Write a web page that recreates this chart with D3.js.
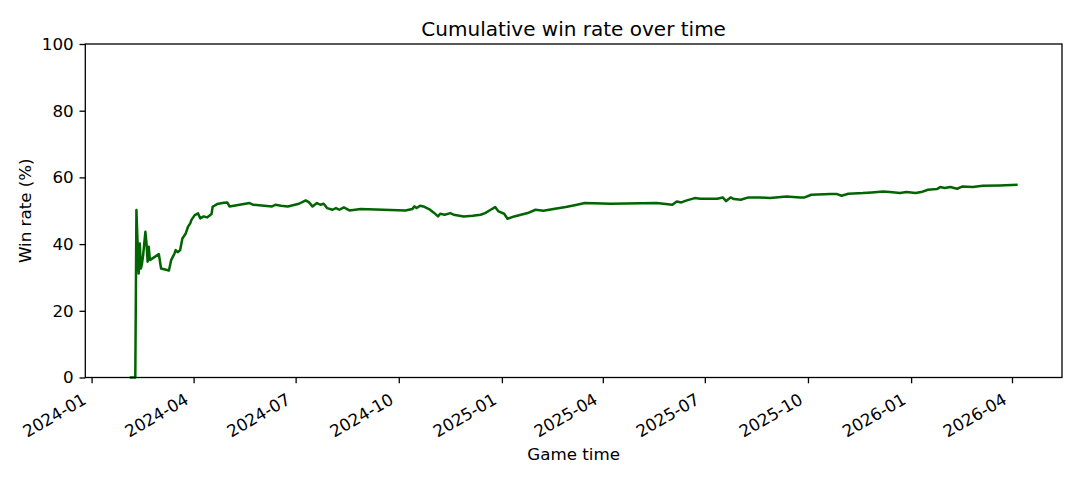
<!DOCTYPE html>
<html>
<head>
<meta charset="utf-8">
<script src="https://cdn.jsdelivr.net/npm/d3@7"></script>
<style>
  body { margin: 0; background: #fff; }
  text { font-family: "DejaVu Sans", sans-serif; fill: #000; }
</style>
</head>
<body>
<div id="chart"></div>
<script>
// data
const gameDates = [
  "2024-02-04", "2024-02-09", "2024-02-10", "2024-02-12", "2024-02-13", "2024-02-14",
  "2024-02-15", "2024-02-16", "2024-02-17", "2024-02-18", "2024-02-19", "2024-02-20",
  "2024-02-21", "2024-02-22", "2024-03-01", "2024-03-03", "2024-03-10", "2024-03-12",
  "2024-03-15", "2024-03-16", "2024-03-18", "2024-03-20", "2024-03-22", "2024-03-25",
  "2024-03-27", "2024-03-29", "2024-03-30", "2024-04-02", "2024-04-05", "2024-04-07",
  "2024-04-10", "2024-04-13", "2024-04-17", "2024-04-18", "2024-04-22", "2024-04-28",
  "2024-05-01", "2024-05-03", "2024-05-21", "2024-05-24", "2024-06-10", "2024-06-13",
  "2024-06-18", "2024-06-24", "2024-07-04", "2024-07-10", "2024-07-13", "2024-07-16",
  "2024-07-20", "2024-07-23", "2024-07-26", "2024-07-29", "2024-08-03", "2024-08-06",
  "2024-08-09", "2024-08-13", "2024-08-18", "2024-08-28", "2024-10-07", "2024-10-13",
  "2024-10-15", "2024-10-17", "2024-10-20", "2024-10-23", "2024-10-28", "2024-11-01",
  "2024-11-05", "2024-11-07", "2024-11-11", "2024-11-16", "2024-11-19", "2024-11-28",
  "2024-12-06", "2024-12-13", "2024-12-17", "2024-12-22", "2024-12-26", "2024-12-29",
  "2025-01-03", "2025-01-06", "2025-01-12", "2025-01-18", "2025-01-24", "2025-01-31",
  "2025-02-07", "2025-02-16", "2025-02-27", "2025-03-09", "2025-03-16", "2025-04-08",
  "2025-05-19", "2025-06-02", "2025-06-06", "2025-06-10", "2025-06-15", "2025-06-22",
  "2025-06-27", "2025-07-12", "2025-07-17", "2025-07-20", "2025-07-24", "2025-07-27",
  "2025-08-02", "2025-08-09", "2025-08-19", "2025-08-28", "2025-09-12", "2025-09-24",
  "2025-09-28", "2025-10-04", "2025-10-21", "2025-10-27", "2025-10-31", "2025-11-06",
  "2025-11-19", "2025-11-27", "2025-12-07", "2025-12-13", "2025-12-22", "2025-12-28",
  "2026-01-05", "2026-01-10", "2026-01-16", "2026-01-24", "2026-01-27", "2026-01-31",
  "2026-02-05", "2026-02-11", "2026-02-16", "2026-02-25", "2026-03-06", "2026-03-21",
  "2026-04-06"
];
const winRates = [
  0, 0, 50.2, 31.2, 40.2, 32.7,
  34.2, 36.7, 40.2, 43.7, 40.2, 34.7,
  39.2, 35.2, 37.0, 32.7, 32.1, 35.2,
  37.2, 38.2, 37.6, 38.2, 41.7, 43.2,
  45.2, 46.2, 47.2, 48.7, 49.2, 47.7,
  48.3, 48.0, 49.0, 51.2, 52.0, 52.4,
  52.5, 51.3, 52.3, 51.8, 51.3, 51.8,
  51.5, 51.3, 52.1, 53.1, 52.5, 51.3,
  52.3, 51.8, 52.1, 50.8, 50.3, 50.8,
  50.3, 51.0, 50.1, 50.5, 50.1, 50.5,
  51.3, 50.8, 51.5, 51.3, 50.5, 49.5,
  48.3, 49.1, 48.8, 49.3, 48.8, 48.3,
  48.5, 48.8, 49.3, 50.3, 51.1, 49.8,
  49.1, 47.6, 48.3, 48.8, 49.3, 50.3,
  50.0, 50.5, 51.1, 51.8, 52.3, 52.1,
  52.3, 51.8, 52.8, 52.5, 53.1, 53.8,
  53.6, 53.6, 54.0, 52.9, 54.0, 53.5,
  53.3, 54.0, 54.0, 53.8, 54.3, 54.0,
  54.0, 54.8, 55.0, 55.0, 54.5, 55.1,
  55.3, 55.5, 55.8, 55.6, 55.3, 55.6,
  55.3, 55.6, 56.3, 56.5, 57.1, 56.8,
  57.1, 56.6, 57.3, 57.1, 57.5, 57.6,
  57.8
];
const monthTicks = ["2024-01", "2024-04", "2024-07", "2024-10", "2025-01", "2025-04",
                    "2025-07", "2025-10", "2026-01", "2026-04"];
const rateTicks = [0, 20, 40, 60, 80, 100];

const parseDay = d3.timeParse("%Y-%m-%d");
const parseMonth = d3.timeParse("%Y-%m");
const series = gameDates.map((d, i) => [parseDay(d), winRates[i]]);

const W = 1080, H = 480;
const margin = { top: 44, right: 18, bottom: 102.5, left: 85.3 },
      width = W - margin.left - margin.right,
      height = H - margin.top - margin.bottom;

const svg = d3.select("#chart")
              .append("svg")
              .attr("width", W)
              .attr("height", H);

const g = svg.append("g")
             .attr("transform", `translate(${margin.left},${margin.top})`);

// 5% padding on the time axis, like the original
const ext = d3.extent(series, d => d[0]);
const pad = (ext[1] - ext[0]) * 0.05;
const x = d3.scaleTime()
            .domain([new Date(+ext[0] - pad), new Date(+ext[1] + pad)])
            .range([0, width]);

const y = d3.scaleLinear()
            .domain([0, 100])
            .range([height, 0]);

const xAxis = g.append("g")
   .attr("transform", `translate(0,${height})`)
   .call(d3.axisBottom(x)
           .tickValues(monthTicks.map(parseMonth))
           .tickFormat(d3.timeFormat("%Y-%m"))
           .tickSize(5.8)
           .tickSizeOuter(0));
xAxis.select(".domain").remove();
xAxis.selectAll("line").attr("stroke-width", 1.3);
xAxis.selectAll("text")
     .attr("font-size", 16.7)
     .attr("text-anchor", "end")
     .attr("dy", null)
     .attr("y", 0)
     .attr("transform", "translate(-4.5,25.5) rotate(-30)");

const yAxis = g.append("g")
   .call(d3.axisLeft(y)
           .tickValues(rateTicks)
           .tickSize(5.8)
           .tickPadding(5.8)
           .tickSizeOuter(0));
yAxis.select(".domain").remove();
yAxis.selectAll("line").attr("stroke-width", 1.3);
yAxis.selectAll("text").attr("font-size", 16.7);

svg.selectAll(".tick line").attr("stroke", "#000");

g.append("path")
 .datum(series)
 .attr("fill", "none")
 .attr("stroke", "#006400")
 .attr("stroke-width", 2.5)
 .attr("stroke-linejoin", "round")
 .attr("d", d3.line()
              .x(d => x(d[0]))
              .y(d => y(d[1])));

g.append("rect")
 .attr("width", width)
 .attr("height", height)
 .attr("fill", "none")
 .attr("stroke", "#000")
 .attr("stroke-width", 1.3);

svg.append("text")
   .attr("x", margin.left + width / 2)
   .attr("y", 35.5)
   .attr("text-anchor", "middle")
   .attr("font-size", 20)
   .text("Cumulative win rate over time");

svg.append("text")
   .attr("x", margin.left + width / 2)
   .attr("y", 459.5)
   .attr("text-anchor", "middle")
   .attr("font-size", 16.7)
   .text("Game time");

svg.append("text")
   .attr("transform", `translate(31,${margin.top + height / 2}) rotate(-90)`)
   .attr("text-anchor", "middle")
   .attr("font-size", 16.7)
   .text("Win rate (%)");
</script>
</body>
</html>
